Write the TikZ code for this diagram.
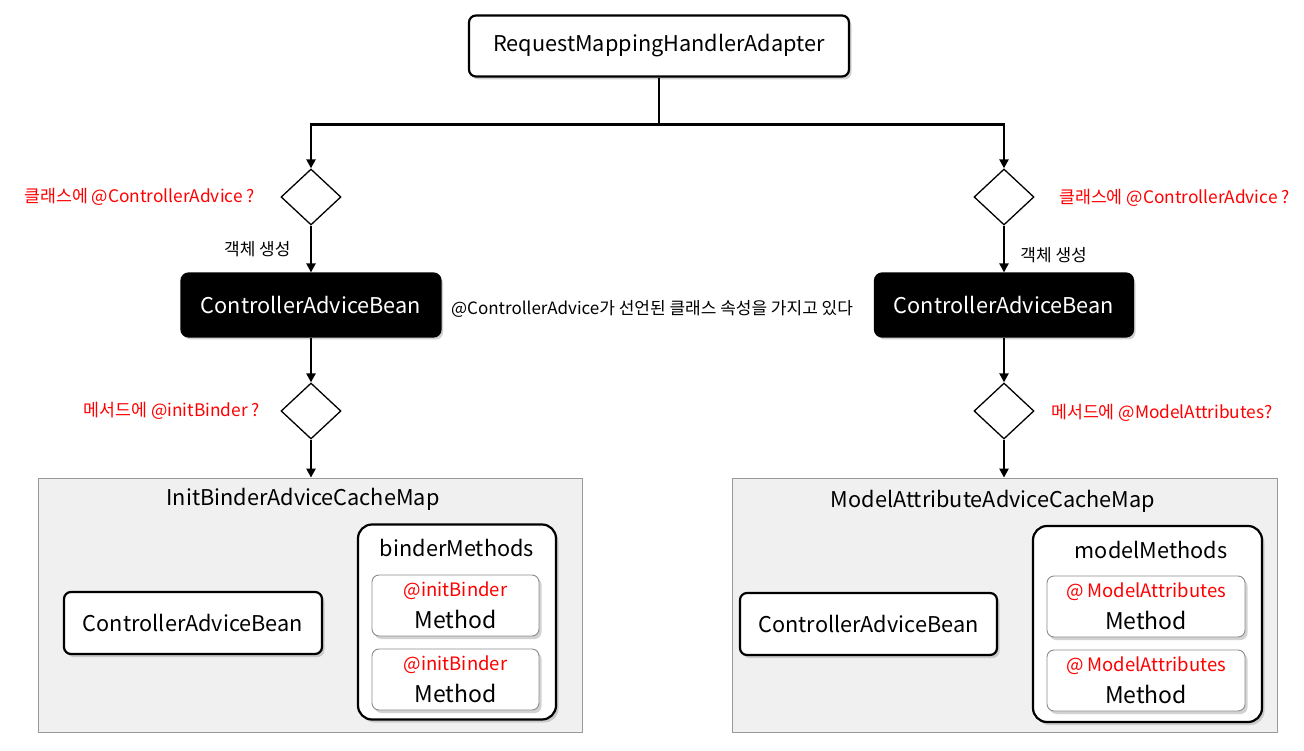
\documentclass[tikz,border=0pt]{standalone}
\usepackage{fontspec}
\setmainfont{Noto Sans CJK KR}
\usetikzlibrary{shapes.geometric,shadows,arrows.meta}

\begin{document}
\begin{tikzpicture}[x=1pt,y=-1pt,
  big/.style={font=\fontsize{21.7}{25}\selectfont},
  small/.style={font=\fontsize{17}{20}\selectfont},
  ask/.style={font=\fontsize{17.3}{20}\selectfont,text=red},
  shade/.style={drop shadow={shadow xshift=2.5pt,shadow yshift=-3pt,fill=black!35}},
  box/.style={big,draw,line width=2.2pt,rounded corners=7pt,fill=white,shade,inner sep=0pt},
  darkbox/.style={box,fill=black,text=white},
  methodbox/.style={draw=black!45,line width=0.9pt,rounded corners=7pt,fill=white,shade,inner sep=0pt,
    minimum height=61pt,align=center,font=\fontsize{23}{26}\selectfont},
  panel/.style={draw=black!40,line width=0.8pt,fill=black!6,inner sep=0pt},
  check/.style={diamond,draw,line width=1.3pt,fill=white,inner sep=0pt,minimum width=60pt,minimum height=56pt},
  flow/.style={line width=2.3pt,-{Triangle[length=9pt,width=9pt]}}
]
  \useasboundingbox (0,0) rectangle (1304,751);

  % Adapter
  \node[box,minimum width=380pt,minimum height=61pt] (adapter) at (659,46) {RequestMappingHandlerAdapter};

  % Left branch
  \node[check] (askL) at (311,197) {};
  \node[ask,anchor=east] (askLtxt) at ([xshift=-22pt]askL.west) {클래스에 @ControllerAdvice ?};
  \node[darkbox,minimum width=259pt,minimum height=63pt] (beanL) at (311,305) {ControllerAdviceBean};
  \node[small,anchor=west] (note) at ([xshift=6pt,yshift=-4pt]beanL.east) {@ControllerAdvice가 선언된 클래스 속성을 가지고 있다};
  \node[check] (binderL) at (311,411) {};
  \node[ask,anchor=east] (binderLtxt) at ([xshift=-17pt]binderL.west) {메서드에 @initBinder ?};

  % Right branch
  \node[check] (askR) at (1004,197) {};
  \node[ask,anchor=west] (askRtxt) at ([xshift=21pt,yshift=-1pt]askR.east) {클래스에 @ControllerAdvice ?};
  \node[darkbox,minimum width=258pt,minimum height=63pt] (beanR) at (1004,305) {ControllerAdviceBean};
  \node[check] (modelR) at (1004,411) {};
  \node[ask,anchor=west] (modelRtxt) at ([xshift=13pt,yshift=-2pt]modelR.east) {메서드에 @ModelAttributes?};

  % Left cache map
  \node[panel,minimum width=544pt,minimum height=254pt] (mapL) at (310,605) {};
  \node[big] (mapLtitle) at (303,499) {InitBinderAdviceCacheMap};
  \node[box,minimum width=258pt,minimum height=62pt] (cabL) at (193,623) {ControllerAdviceBean};
  \node[box,rounded corners=14pt,minimum width=198pt,minimum height=195pt] (binders) at (457,622) {};
  \node[big] (bindersTitle) at (457,548) {binderMethods};
  \node[methodbox,minimum width=167pt] (bm1) at (455.5,605.5) {{\fontsize{18.5}{20}\selectfont\color{red}@initBinder}\\[6pt]Method};
  \node[methodbox,minimum width=167pt] (bm2) at (455.5,679.5) {{\fontsize{18.5}{20}\selectfont\color{red}@initBinder}\\[6pt]Method};

  % Right cache map
  \node[panel,minimum width=545pt,minimum height=254pt] (mapR) at (1004.5,605) {};
  \node[big] (mapRtitle) at (993,501) {ModelAttributeAdviceCacheMap};
  \node[box,minimum width=257pt,minimum height=62pt] (cabR) at (868.5,624) {ControllerAdviceBean};
  \node[box,rounded corners=14pt,minimum width=229pt,minimum height=196pt] (models) at (1147.5,624) {};
  \node[big] (modelsTitle) at (1151,550) {modelMethods};
  \node[methodbox,minimum width=198pt] (mm1) at (1146,606.5) {{\fontsize{18.5}{20}\selectfont\color{red}@ ModelAttributes}\\[6pt]Method};
  \node[methodbox,minimum width=198pt] (mm2) at (1146,680.5) {{\fontsize{18.5}{20}\selectfont\color{red}@ ModelAttributes}\\[6pt]Method};

  % Connectors
  \draw[flow] (adapter.south) -- ++(0,47) -| (askL.north);
  \draw[flow] (adapter.south) -- ++(0,47) -| (askR.north);
  \draw[flow] (askL.south) -- node[small,left=16pt,pos=0.5] {객체 생성} (beanL.north);
  \draw[flow] (askR.south) -- node[small,right=12pt,pos=0.62] {객체 생성} (beanR.north);
  \draw[flow] (beanL.south) -- (binderL.north);
  \draw[flow] (beanR.south) -- (modelR.north);
  \draw[flow] (binderL.south) -- (mapL.north -| binderL.south);
  \draw[flow] (modelR.south) -- (mapR.north -| modelR.south);

\end{tikzpicture}
\end{document}
